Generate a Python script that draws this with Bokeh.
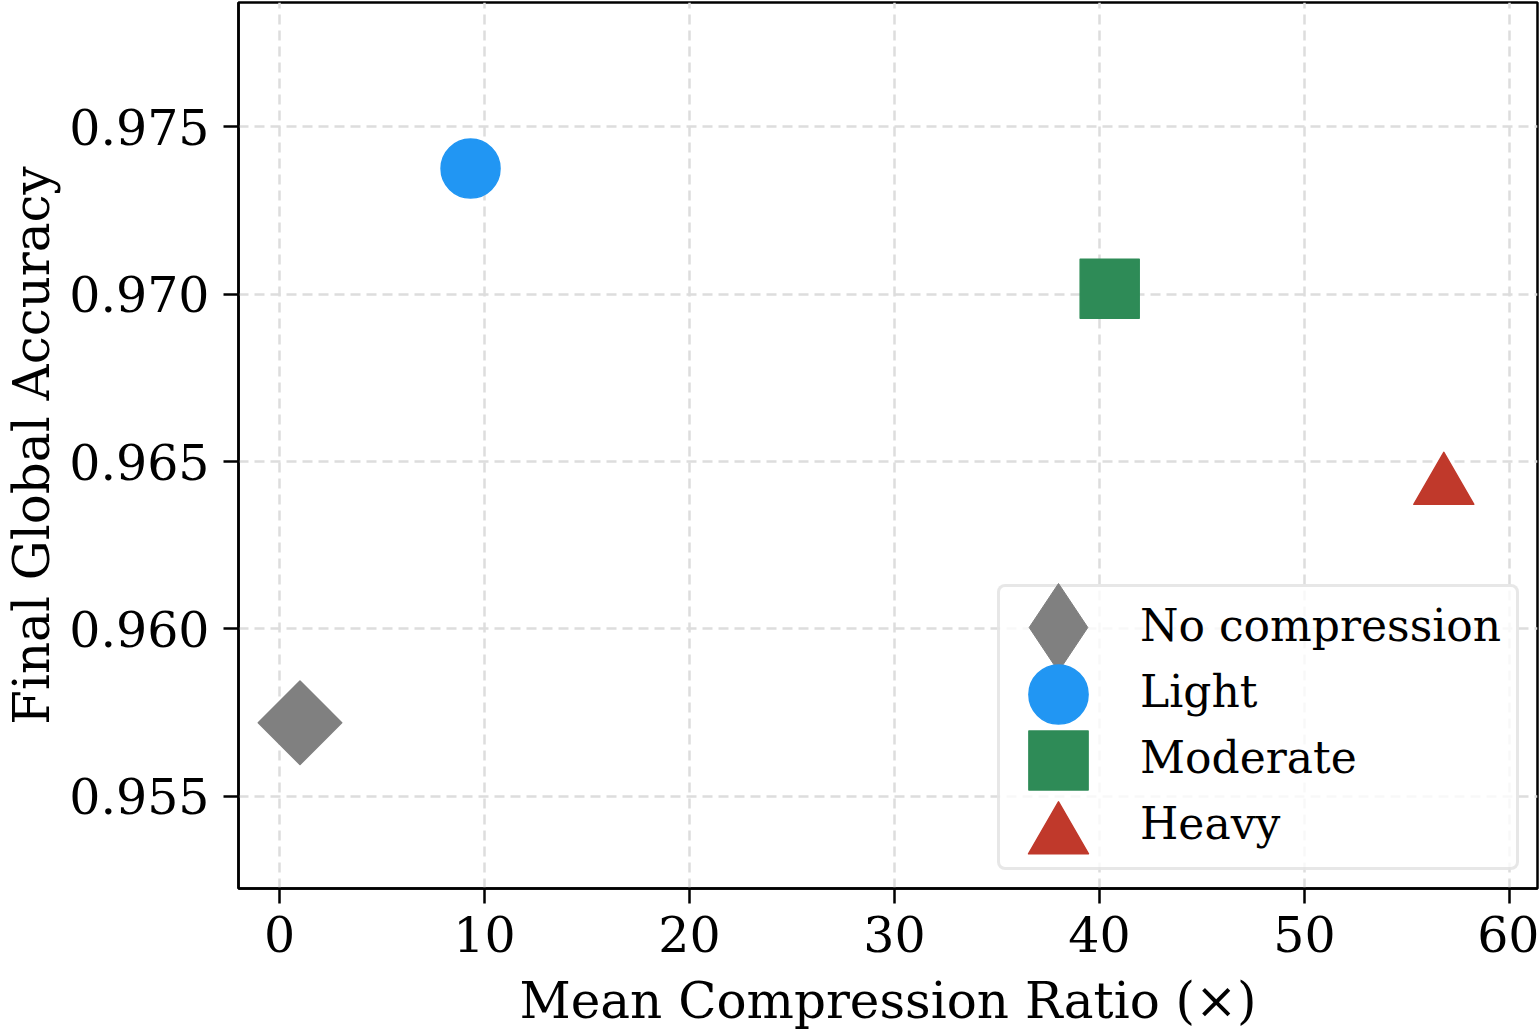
import math
from bokeh.plotting import figure
from bokeh.models import Range1d, FixedTicker, NumeralTickFormatter, Legend, LegendItem
from bokeh.core.properties import value
from bokeh.embed import file_html
from bokeh.resources import INLINE

# ---- data ----
labels = ["No compression", "Light", "Moderate", "Heavy"]
ratios = [1.0, 9.32, 40.5, 56.8]
accuracies = [0.9572, 0.97375, 0.97016, 0.96424]
markers = ["square", "circle", "square", "triangle"]
legend_markers = ["diamond", "circle", "square", "triangle"]
angles = [math.pi / 4, 0.0, 0.0, 0.0]
colors = ["#808080", "#2196F3", "#2E8B57", "#C0392B"]
x_ticks = [0, 10, 20, 30, 40, 50, 60]
y_ticks = [0.955, 0.960, 0.965, 0.970, 0.975]

FONT = "DejaVu Serif"
FRAME_LEFT, FRAME_BOTTOM = 238, 888

p = figure(width=1539, height=1033, output_backend="svg", toolbar_location=None,
           x_range=Range1d(-2.0, 61.37), y_range=Range1d(0.95225, 0.97871),
           min_border_left=FRAME_LEFT, min_border_right=2, min_border_top=2,
           min_border_bottom=1033 - FRAME_BOTTOM)

p.background_fill_color = "white"
p.border_fill_color = "white"
p.outline_line_color = "black"
p.outline_line_width = 2.5

# hidden diamond key renderer (sits entirely inside the rotated-square marker)
diamond_key = p.scatter(x=[ratios[0]], y=[accuracies[0]], marker="diamond", size=80,
                        fill_color=colors[0], line_color=colors[0], line_width=1.0)

renderers = []
for lab, xv, yv, mk, ang, col in zip(labels, ratios, accuracies, markers, angles, colors):
    size = 59 if mk != "triangle" else 60
    r = p.scatter(x=[xv], y=[yv], marker=mk, angle=ang, size=size,
                  fill_color=col, line_color=col, line_width=1.5, line_join="round")
    renderers.append(r)

# axes
for ax in (p.xaxis[0], p.yaxis[0]):
    ax.axis_line_color = "black"
    ax.axis_line_width = 2.5
    ax.major_tick_line_color = "black"
    ax.major_tick_line_width = 2.5
    ax.major_tick_out = 15
    ax.major_tick_in = 0
    ax.minor_tick_line_color = None
    ax.major_label_text_font = FONT
    ax.major_label_text_font_size = "49px"
    ax.major_label_text_color = "black"
    ax.axis_label_text_font = FONT
    ax.axis_label_text_font_size = "50px"
    ax.axis_label_text_font_style = "normal"
    ax.axis_label_text_color = "black"

p.xaxis.ticker = FixedTicker(ticks=x_ticks)
p.yaxis.ticker = FixedTicker(ticks=y_ticks)
p.yaxis.formatter = NumeralTickFormatter(format="0.000")
p.xaxis.axis_label = "Mean Compression Ratio (×)"
p.yaxis.axis_label = "Final Global Accuracy"
p.xaxis.major_label_standoff = 12
p.yaxis.major_label_standoff = 14
p.xaxis.axis_label_standoff = 17
p.yaxis.axis_label_standoff = 5

# grid
for g in (p.xgrid[0], p.ygrid[0]):
    g.grid_line_color = "#dddddd"
    g.grid_line_width = 2.5
    g.grid_line_dash = "10 6"

# legend frame + labels (glyphs suppressed by zero glyph width)
legend_text = Legend(items=[LegendItem(label=lab, renderers=[r]) for lab, r in zip(labels, renderers)],
                     location=(997 - FRAME_LEFT, FRAME_BOTTOM - 870))
legend_text.glyph_width = 0
legend_text.glyph_height = 66
legend_text.spacing = 0
legend_text.padding = dict(left=8, right=8, top=5, bottom=11)
legend_text.label_standoff = 132
legend_text.label_width = 368
legend_text.label_text_font = FONT
legend_text.label_text_font_size = "44px"
legend_text.label_text_color = "black"
legend_text.border_line_color = "#d0d0d0"
legend_text.border_line_width = 3
legend_text.background_fill_color = "white"
legend_text.background_fill_alpha = 0.8
legend_text.margin = 0
if "border_radius" in Legend.properties():
    legend_text.border_radius = 8
p.add_layout(legend_text)

# legend keys: one single-item legend per key so that keys can be large
key_renderers = [diamond_key] + renderers[1:]
key_centers_y = [627, 694, 760, 836]   # pixel rows of the keys (layout)
key_center_x = 1058
key_boxes = [220, 148, 148, 150]       # key box -> marker size = 0.4 * box
for kr, cy, box in zip(key_renderers, key_centers_y, key_boxes):
    lg = Legend(items=[LegendItem(label=value(""), renderers=[kr])],
                location=(key_center_x - box / 2 - FRAME_LEFT, FRAME_BOTTOM - (cy + box / 2)))
    lg.glyph_width = box
    lg.glyph_height = box
    lg.padding = 0
    lg.margin = 0
    lg.spacing = 0
    lg.label_standoff = 0
    lg.label_width = 0
    lg.border_line_color = None
    lg.background_fill_alpha = 0
    p.add_layout(lg)

open("out.html", "w").write(file_html(p, INLINE))
